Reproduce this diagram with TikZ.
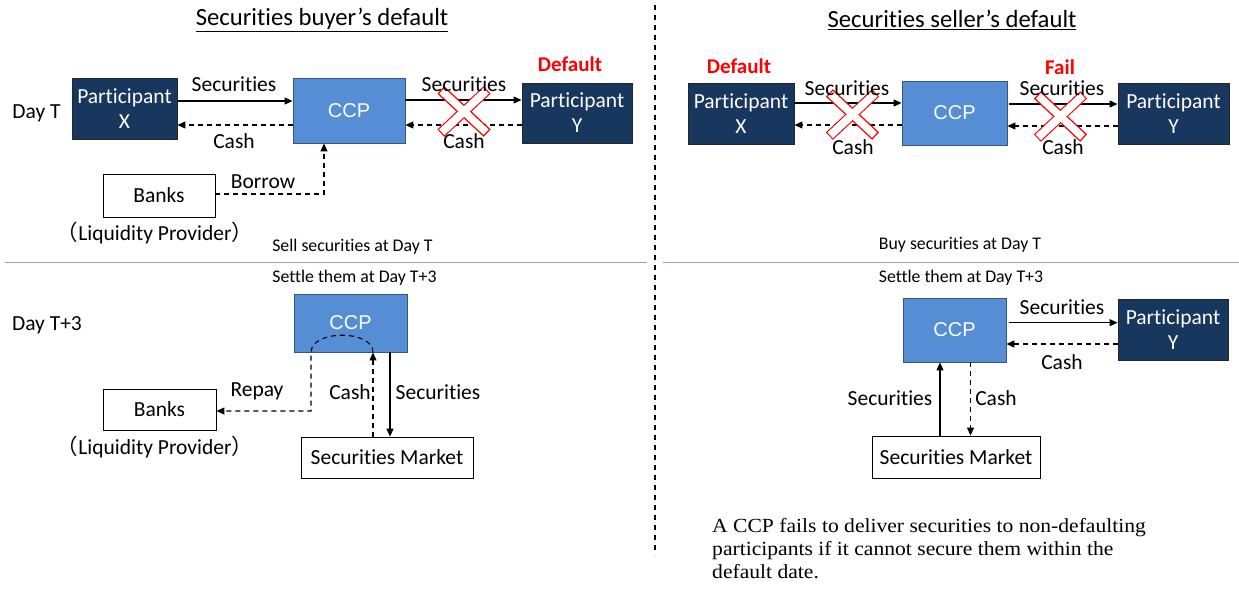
\documentclass[tikz,border=0pt]{standalone}
\usepackage{fontspec}
\setmainfont{Carlito}[Ligatures=NoCommon]
\newfontfamily\cjkf{Noto Sans CJK JP}
\newfontfamily\serifp{Liberation Serif}[FakeStretch=1.08]
\newfontfamily\arialf{Liberation Sans}
\usetikzlibrary{arrows.meta}
\definecolor{navy}{RGB}{23,55,94}
\definecolor{ccpblue}{RGB}{85,142,213}
\definecolor{ccpedge}{RGB}{55,85,125}
\definecolor{sepline}{RGB}{140,170,200}
\begin{document}
\begin{tikzpicture}[x=1pt,y=-1pt,
  font=\fontsize{21.5}{25}\selectfont,
  navybox/.style={draw=black!85, fill=navy, text=white, align=center, inner sep=0pt, line width=0.9pt},
  ccpbox/.style={draw=ccpedge, fill=ccpblue, text=white, inner sep=0pt, line width=0.9pt, font=\arialf\fontsize{20}{24}\selectfont},
  wbox/.style={draw=black, fill=white, inner sep=0pt, line width=0.8pt},
  sarr/.style={-{Triangle[length=8pt,width=7pt]}, line width=1.1pt},
  darr/.style={sarr, dash pattern=on 5pt off 4pt},
  lbl/.style={inner sep=0pt},
  small/.style={inner sep=0pt, font=\fontsize{17.8}{20}\selectfont},
  redlbl/.style={inner sep=0pt, text=red, font=\bfseries\fontsize{21}{24}\selectfont},
  ttl/.style={inner sep=0pt, font=\fontsize{24.7}{28}\selectfont},
  redx/.pic={
    \node[draw=red, fill=white, line width=1.2pt, minimum width=62pt, minimum height=9pt, inner sep=0pt, rotate=43] {};
    \node[draw=red, fill=white, line width=1.2pt, minimum width=62pt, minimum height=9pt, inner sep=0pt, rotate=-43] {};
    \node[fill=white, minimum width=60.8pt, minimum height=7.8pt, inner sep=0pt, rotate=43] {};
  }
]
\useasboundingbox (0,0) rectangle (1239,589);

% ---------- separators ----------
\draw[line width=1.5pt, dash pattern=on 5pt off 5pt] (655,5) -- (655,555);
\draw[sepline, line width=1pt] (5,262) -- (647,262);
\draw[sepline, line width=1pt] (663,262) -- (1239,262);

% ---------- titles ----------
\node[ttl] (t1) at (322,20) {\underline{Securities buyer’s default}};
\node[ttl] (t2) at (952,20) {\underline{Securities seller’s default}};

% ---------- left top ----------
\node[lbl] (dayT) at (36.5,113) {Day T};
\node[navybox, minimum width=105pt, minimum height=61pt] (px1) at (124.5,108.5) {Participant\\X};
\node[ccpbox, minimum width=112pt, minimum height=65pt] (ccp1) at (349,110.5) {CCP};
\node[navybox, minimum width=110pt, minimum height=60pt] (py1) at (577,113) {Participant\\Y};
\node[redlbl] (def1) at (570,64) {Default};
\node[wbox, minimum width=112pt, minimum height=43pt] (banks1) at (159,195.5) {Banks};
\node[lbl] (liq1) at (155,233) {{\cjkf （}Liquidity Provider{\cjkf ）}};

\draw[sarr] ([yshift=7.5pt]px1.east) -- ([yshift=7.5pt]px1.east -| ccp1.west);
\draw[darr] ([yshift=-14.5pt]ccp1.west) -- ([yshift=-14.5pt]ccp1.west -| px1.east);
\draw[sarr] ([yshift=10.5pt]ccp1.east) -- ([yshift=10.5pt]ccp1.east -| py1.west);
\draw[darr] ([yshift=-14.5pt]ccp1.east -| py1.west) -- ([yshift=-14.5pt]ccp1.east);
\draw[darr] ([yshift=1.5pt]banks1.east) -| ([xshift=-25pt]ccp1.south);
\pic at (464,111.5) {redx};

\node[lbl] (ls1) at (234,84) {Securities};
\node[lbl] (lc1) at (234,141) {Cash};
\node[lbl] (ls2) at (464,84) {Securities};
\node[lbl] (lc2) at (464,141) {Cash};
\node[lbl] (lb1) at (263,182) {Borrow};

\node[small] (sell) at (352.5,247) {Sell securities at Day T};
\node[small] (set1) at (354.5,278) {Settle them at Day T+3};

% ---------- left bottom ----------
\node[lbl] (dayT3) at (47,325) {Day T+3};
\node[ccpbox, minimum width=113pt, minimum height=58pt] (ccp2) at (350.5,323) {CCP};
\node[wbox, minimum width=113pt, minimum height=41pt] (banks2) at (159.5,409.5) {Banks};
\node[lbl] (liq2) at (155,447) {{\cjkf （}Liquidity Provider{\cjkf ）}};
\node[wbox, minimum width=172pt, minimum height=41pt] (mkt2) at (387,457.5) {Securities Market};

\draw[darr] ([xshift=22.5pt]ccp2.south |- mkt2.north) -- ([xshift=22.5pt]ccp2.south);
\draw[darr] ([xshift=22.5pt]ccp2.south) .. controls +(0,-23) and +(0,-23) .. ([xshift=-39.5pt]ccp2.south) |- ([yshift=-1.5pt]banks2.east);
\draw[sarr] ([xshift=39.5pt]ccp2.south) -- ([xshift=39.5pt]ccp2.south |- mkt2.north);

\node[lbl] (lr) at (257,391) {Repay};
\node[lbl] (lc3) at (350,392) {Cash};
\node[lbl] (ls3) at (438,392) {Securities};

% ---------- right top ----------
\node[navybox, minimum width=106pt, minimum height=61pt] (px3) at (741,113.5) {Participant\\X};
\node[ccpbox, minimum width=105pt, minimum height=64pt] (ccp3) at (954.5,113) {CCP};
\node[navybox, minimum width=111pt, minimum height=61pt] (py3) at (1173.5,113.5) {Participant\\Y};
\node[redlbl] (def2) at (739,66) {Default};
\node[redlbl] (fail) at (1060,67) {Fail};

\draw[sarr] ([yshift=10.5pt]px3.east) -- ([yshift=10.5pt]px3.east -| ccp3.west);
\draw[darr] ([yshift=-12pt]ccp3.west) -- ([yshift=-12pt]ccp3.west -| px3.east);
\draw[sarr] ([xshift=2pt,yshift=9pt]ccp3.east) -- ([yshift=9pt]ccp3.east -| py3.west);
\draw[darr] ([yshift=-13pt]ccp3.east -| py3.west) -- ([yshift=-13pt]ccp3.east);
\pic at (852.5,114.5) {redx};
\pic at (1060.5,116.5) {redx};

\node[lbl] (ls4) at (847,88) {Securities};
\node[lbl] (lc4) at (853,147) {Cash};
\node[lbl] (ls5) at (1062,88) {Securities};
\node[lbl] (lc5) at (1063,147) {Cash};

\node[small] (buy) at (960,245) {Buy securities at Day T};
\node[small] (set2) at (961,278) {Settle them at Day T+3};

% ---------- right bottom ----------
\node[ccpbox, minimum width=103pt, minimum height=64pt] (ccp4) at (954.5,330) {CCP};
\node[navybox, minimum width=110pt, minimum height=61pt] (py4) at (1173,329.5) {Participant\\Y};
\node[wbox, minimum width=168pt, minimum height=42pt] (mkt4) at (956,457) {Securities Market};

\draw[sarr] ([xshift=2.5pt,yshift=7.3pt]ccp4.east) -- ([yshift=7.3pt]ccp4.east -| py4.west);
\draw[darr] ([yshift=-14pt]ccp4.east -| py4.west) -- ([yshift=-14pt]ccp4.east);
\draw[sarr] ([xshift=-14.5pt]ccp4.south |- mkt4.north) -- ([xshift=-14.5pt]ccp4.south);
\draw[darr] ([xshift=16pt]ccp4.south) -- ([xshift=16pt]ccp4.south |- mkt4.north);

\node[lbl] (ls6) at (1062,307) {Securities};
\node[lbl] (lc6) at (1062,362) {Cash};
\node[lbl] (ls7) at (890,398) {Securities};
\node[lbl] (lc7) at (996,398) {Cash};

% ---------- note ----------
\node[inner sep=0pt, anchor=north west, align=left, font=\serifp\fontsize{20}{23}\selectfont] (note) at (712,518)
  {A CCP fails to deliver securities to non-defaulting\\participants if it cannot secure them within the\\default date.};
\end{tikzpicture}
\end{document}
